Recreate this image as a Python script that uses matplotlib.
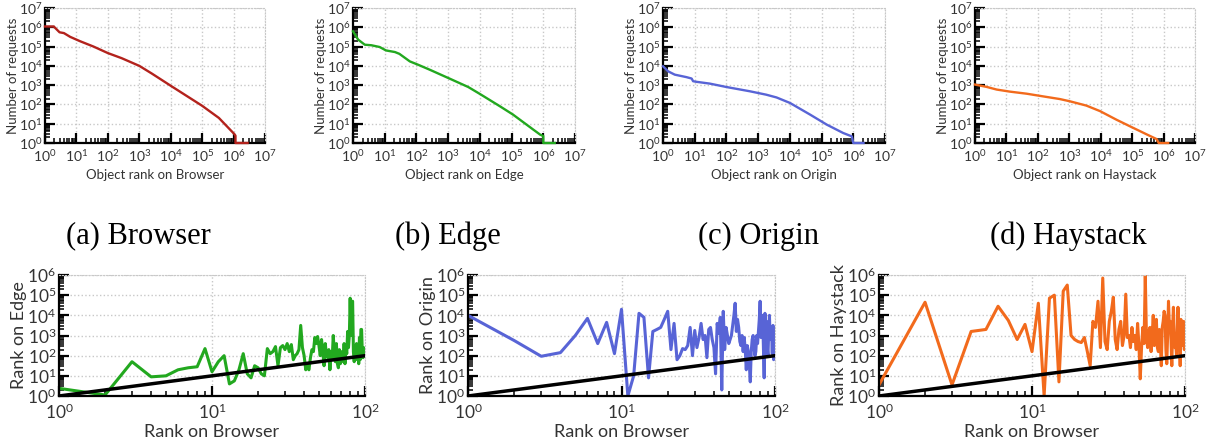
import numpy as np
import matplotlib
matplotlib.use("Agg")
import matplotlib.pyplot as plt
from matplotlib.ticker import LogLocator, NullFormatter

plt.rcParams['font.family'] = ['Lato', 'DejaVu Sans']
plt.rcParams['mathtext.fontset'] = 'custom'
plt.rcParams['mathtext.rm'] = 'Lato'

# ---- top row: popularity curves (rank -> number of requests) ----
browser_rank = [1, 1.9, 2.9, 4, 6.3, 13, 35, 100, 275, 1000, 2500, 1e4, 1e5, 3.4e5, 1e6, 1.15e6, 1.15e6, 2.8e6]
browser_req = [1.1e6, 1.1e6, 5.5e5, 5e5, 3.2e5, 1.9e5, 1e5, 4.6e4, 2.5e4, 1e4, 4e3, 9.3e2, 8.5e1, 2e1, 3.2, 2.4, 1, 1]

edge_rank = [1, 1.45, 2.35, 3.8, 6.9, 11, 21, 29, 62, 112, 263, 1100, 4300, 1e4, 4.3e4, 1.1e5, 4.8e5, 8e5, 1e6, 1e6, 2.3e6]
edge_req = [6.2e5, 2.3e5, 1.25e5, 1.17e5, 9.5e4, 6.3e4, 5.2e4, 4.2e4, 1.7e4, 1.15e4, 6.3e3, 2.2e3, 8e2, 3.5e2, 8e1, 3e1, 5, 2.7, 2.3, 1, 1]

origin_rank = [1, 1.45, 2.35, 5.5, 8, 8.9, 11, 30, 100, 550, 1800, 3800, 1e4, 4.3e4, 1.45e5, 4.8e5, 9e5, 1e6, 2.1e6]
origin_req = [9.5e3, 5.2e3, 3.5e3, 2.6e3, 2.2e3, 1.6e3, 1.5e3, 1.2e3, 8e2, 4.8e2, 3.2e2, 2.3e2, 1.2e2, 3e1, 9, 3.3, 2.2, 1, 1]

haystack_rank = [1, 2.35, 4.9, 13, 44, 150, 500, 1050, 3500, 9500, 3.2e4, 1.1e5, 2.9e5, 6e5, 7e5, 1.4e6]
haystack_req = [1.07e3, 8.1e2, 5.9e2, 4.6e2, 3.6e2, 2.6e2, 1.9e2, 1.45e2, 8.7e1, 4.5e1, 1.6e1, 6, 2.8, 1.6, 1, 1]

# ---- bottom row: rank on browser vs rank on other layers (log10 of rank) ----
browser_top = list(range(1, 101))
edge_exp = [0.38, 0.05, 1.70, 0.95, 1.0, 1.3, 1.4, 1.45, 2.35, 1.2,
            1.7, 2.0, 0.6, 0.75, 1.3, 2.1, 1.1, 0.9, 1.5, 1.4,
            1.1, 1.0, 2.35, 2.1, 2.2, 2.45, 1.5, 2.4, 2.5, 2.3,
            2.6, 2.2, 2.55, 1.8, 2.0, 2.1, 2.3, 3.5, 2.4, 2.0,
            1.3, 1.5, 1.3, 1.9, 2.3, 2.2, 2.9, 2.6, 2.95, 2.5,
            2.0, 2.8, 2.2, 1.5, 2.6, 2.0, 1.9, 2.3, 1.3, 2.2,
            1.8, 3.0, 2.2, 1.7, 2.6, 1.6, 1.4, 2.3, 1.6, 2.2,
            1.8, 1.7, 2.6, 1.6, 2.4, 2.1, 3.2, 2.4, 3.0, 4.85,
            3.0, 4.6, 4.7, 2.2, 1.7, 2.5, 2.0, 2.6, 1.8, 2.1,
            1.6, 2.9, 1.8, 3.3, 3.3, 2.2, 1.9, 2.4, 2.0, 2.3]
origin_exp = [4.0, 2.75, 1.97, 2.15, 3.0, 3.85, 2.6, 3.65, 2.1, 4.3,
              0.0, 1.0, 4.1, 3.9, 0.9, 3.2, 3.3, 3.4, 3.8, 4.2,
              2.3, 3.6, 1.8, 2.0, 2.35, 2.3, 2.5, 3.4, 2.0, 3.25,
              2.4, 2.9, 3.6, 2.8, 3.0, 1.9, 3.3, 3.4, 2.8, 2.4,
              1.1, 3.6, 3.1, 3.9, 0.3, 4.2, 2.3, 3.4, 3.0, 2.6,
              2.8, 3.0, 3.5, 4.0, 4.6, 3.2, 3.8, 3.4, 2.7, 2.5,
              3.0, 2.2, 2.9, 2.3, 1.3, 2.5, 2.2, 1.6, 0.7, 2.2,
              2.8, 3.0, 2.4, 2.0, 2.2, 3.0, 2.6, 3.2, 3.8, 4.7,
              2.9, 3.7, 4.0, 2.5, 0.9, 4.1, 3.6, 3.7, 2.4, 2.0,
              3.2, 4.0, 2.8, 3.4, 3.2, 2.1, 3.5, 1.8, 3.2, 3.0]
haystack_exp = [0.55, 4.65, 0.55, 3.2, 3.3, 4.45, 3.75, 2.8, 3.55, 2.2,
                4.6, 0.0, 4.85, 5.0, 0.7, 5.2, 5.5, 3.0, 2.8, 2.7,
                2.65, 2.9, 2.2, 1.5, 3.7, 3.4, 4.7, 2.4, 5.85, 2.7,
                2.3, 3.7, 4.2, 4.9, 2.8, 2.3, 3.3, 3.7, 2.5, 3.0,
                5.05, 2.9, 3.0, 2.4, 3.4, 2.7, 3.0, 2.3, 3.6, 2.5,
                0.85, 2.4, 3.4, 2.6, 6.0, 2.9, 2.4, 3.2, 3.4, 2.2,
                3.0, 4.0, 2.5, 2.9, 3.8, 2.4, 2.2, 3.3, 2.6, 1.5,
                3.4, 3.7, 4.2, 4.0, 2.3, 1.6, 3.0, 4.7, 3.5, 3.7,
                2.8, 1.5, 3.4, 4.4, 3.1, 2.4, 2.6, 2.0, 3.2, 4.4,
                2.7, 3.0, 1.5, 3.8, 3.5, 2.6, 2.5, 3.7, 2.3, 3.6]

colors = {'Browser': '#b3221c', 'Edge': '#22a81f', 'Origin': '#5864d6', 'Haystack': '#f26a1c'}

W, H = 1212, 444
fig = plt.figure(figsize=(W / 100, H / 100), dpi=100)


def px_axes(left, right, top, bottom):
    return fig.add_axes([left / W, (H - bottom) / H, (right - left) / W, (bottom - top) / H])


def style_log(ax, xmax, ymax, fs, xpad):
    ax.set_xscale('log')
    ax.set_yscale('log')
    ax.set_xlim(1, xmax)
    ax.set_ylim(1, ymax)
    for axis in (ax.xaxis, ax.yaxis):
        axis.set_major_locator(LogLocator(base=10, numticks=20))
        axis.set_minor_locator(LogLocator(base=10, subs=np.arange(2, 10), numticks=20))
        axis.set_minor_formatter(NullFormatter())
    ax.tick_params(which='major', direction='in', length=7, width=1.6, color='black',
                   labelsize=fs, labelcolor='#333333', pad=2)
    ax.tick_params(axis='x', which='major', pad=xpad)
    ax.tick_params(which='minor', direction='in', length=3.5, width=1.1, color='black')
    ax.grid(True, which='major', color='#c8c8c8', linestyle=':', linewidth=1.0)
    for s in ('top', 'right'):
        ax.spines[s].set_color('#c8c8c8')
        ax.spines[s].set_linestyle(':')
    for s in ('left', 'bottom'):
        ax.spines[s].set_linewidth(1.6)
        ax.spines[s].set_color('black')


# top row
top_boxes = [(45, 265), (353, 575), (663, 885), (975, 1195)]
top_data = [('Browser', browser_rank, browser_req),
            ('Edge', edge_rank, edge_req),
            ('Origin', origin_rank, origin_req),
            ('Haystack', haystack_rank, haystack_req)]
captions = ['(a) Browser', '(b) Edge', '(c) Origin', '(d) Haystack']
caption_x = [138, 448, 758, 1068]

for (l, r), (name, xs, ys), cap, cx in zip(top_boxes, top_data, captions, caption_x):
    ax = px_axes(l, r, 8, 143)
    style_log(ax, 1e7, 1e7, 10, 4)
    ax.plot(xs, ys, color=colors[name], linewidth=1.7, clip_on=False, zorder=5)
    ax.set_xlabel('Object rank on ' + name, fontsize=9.5, color='#333333', labelpad=3)
    ax.set_ylabel('Number of requests', fontsize=9.5, color='#333333', labelpad=0)
    fig.text(cx / W, (H - 236) / H, cap, ha='center', va='center',
             fontsize=22, family='Liberation Serif')

# bottom row
bot_boxes = [(59, 365), (468, 775), (879, 1185)]
bot_data = [('Edge', edge_exp), ('Origin', origin_exp), ('Haystack', haystack_exp)]

for (l, r), (name, exps) in zip(bot_boxes, bot_data):
    ax = px_axes(l, r, 275, 396)
    style_log(ax, 100, 1e6, 12.5, 5)
    ax.plot(browser_top, 10 ** np.array(exps), color=colors[name], linewidth=2.2)
    ax.plot([1, 100], [1, 100], color='black', linewidth=2.5, zorder=6)
    ax.set_xlabel('Rank on Browser', fontsize=13, color='#333333', labelpad=1)
    ax.set_ylabel('Rank on ' + name, fontsize=13, color='#333333', labelpad=0)

fig.savefig('out.png', dpi=100)
